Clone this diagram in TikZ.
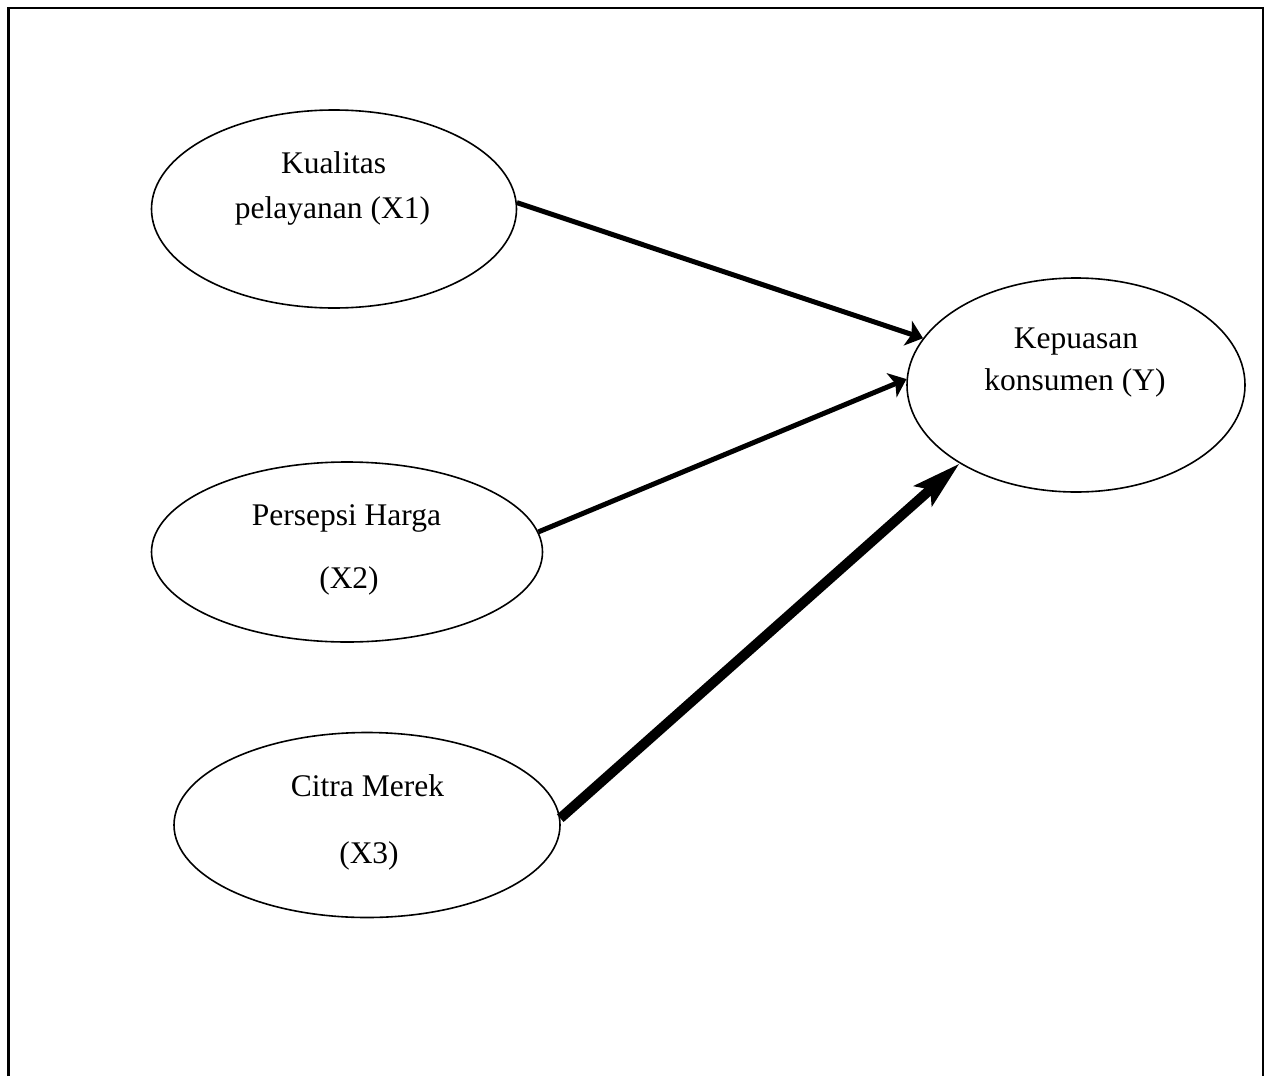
\documentclass[tikz,border=0pt]{standalone}
\usepackage{fontspec}
\setmainfont{Liberation Serif}
\usetikzlibrary{shapes.geometric,arrows.meta}
\begin{document}
\begin{tikzpicture}[x=1pt,y=-1pt,
  var/.style={draw,ellipse,line width=1.6pt,inner sep=0pt},
  lbl/.style={anchor=base,inner sep=0pt,font=\fontsize{31.5}{38}\selectfont},
  conn/.style={line width=5pt,-{Stealth[length=16pt,width=26pt,inset=4pt]}},
  thickconn/.style={line width=10pt,-{Stealth[length=48pt,width=26pt,inset=9pt]}}]
\useasboundingbox (0,0) rectangle (1271,1076);
% frame
\draw[line width=2.6pt] (8.7,1076) -- (8.7,8) -- (1263,8) -- (1263,1076);
% variables
\node[var,minimum width=365pt,minimum height=198pt] (x1) at (334,209) {};
\node[var,minimum width=391pt,minimum height=180pt] (x2) at (347,552) {};
\node[var,minimum width=386pt,minimum height=185pt] (x3) at (367,825) {};
\node[var,minimum width=338pt,minimum height=214pt] (y) at (1076,385) {};
% texts
\node[lbl] (x1a) at (333.5,173) {Kualitas};
\node[lbl] (x1b) at (332.5,218) {pelayanan (X1)};
\node[lbl] (x2a) at (346.5,525) {Persepsi Harga};
\node[lbl] (x2b) at (349,588) {(X2)};
\node[lbl] (x3a) at (367.5,796) {Citra Merek};
\node[lbl] (x3b) at (369,863) {(X3)};
\node[lbl] (ya) at (1076,348) {Kepuasan};
\node[lbl] (yb) at (1075,390) {konsumen (Y)};
% connectors
\draw[conn] (x1.2) -- (y.163);
\draw[conn] (x2.6) -- (y.178);
\draw[thickconn] (x3.2) -- (y.214);
\end{tikzpicture}
\end{document}
